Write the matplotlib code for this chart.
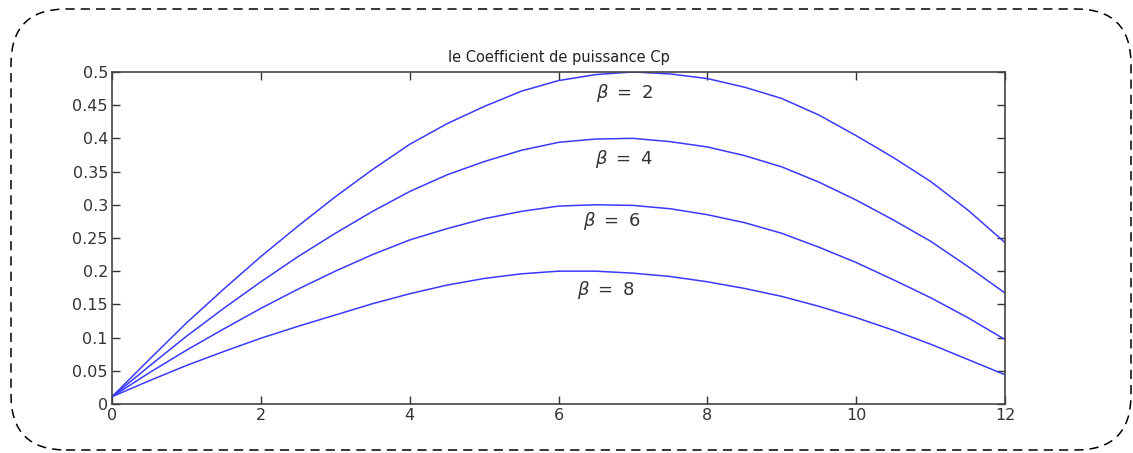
import numpy as np
import matplotlib.pyplot as plt
from matplotlib.patches import FancyBboxPatch

# vitesse specifique lambda
lam = [0, 0.5, 1, 1.5, 2, 2.5, 3, 3.5, 4, 4.5, 5, 5.5, 6,
       6.5, 7, 7.5, 8, 8.5, 9, 9.5, 10, 10.5, 11, 11.5, 12]

cp_b2 = [0.011, 0.067, 0.122, 0.173, 0.222, 0.268, 0.312, 0.353, 0.391, 0.422, 0.448, 0.471, 0.487,
         0.496, 0.500, 0.497, 0.490, 0.477, 0.460, 0.435, 0.404, 0.371, 0.335, 0.292, 0.243]
cp_b4 = [0.011, 0.057, 0.102, 0.144, 0.184, 0.222, 0.257, 0.290, 0.320, 0.345, 0.365, 0.382, 0.394,
         0.399, 0.400, 0.395, 0.387, 0.374, 0.357, 0.334, 0.307, 0.277, 0.245, 0.207, 0.167]
cp_b6 = [0.011, 0.047, 0.081, 0.113, 0.144, 0.173, 0.200, 0.225, 0.247, 0.264, 0.279, 0.290, 0.298,
         0.300, 0.299, 0.294, 0.285, 0.273, 0.257, 0.236, 0.213, 0.187, 0.160, 0.130, 0.097]
cp_b8 = [0.011, 0.035, 0.058, 0.079, 0.099, 0.117, 0.134, 0.151, 0.166, 0.179, 0.189, 0.196, 0.200,
         0.200, 0.197, 0.192, 0.184, 0.174, 0.162, 0.147, 0.130, 0.111, 0.090, 0.067, 0.044]

curves = [cp_b2, cp_b4, cp_b6, cp_b8]
labels = [r'$\beta\ =\ 2$', r'$\beta\ =\ 4$', r'$\beta\ =\ 6$', r'$\beta\ =\ 8$']
label_x = [6.88, 6.88, 6.72, 6.63]
label_y = [0.468, 0.369, 0.276, 0.172]

fig = plt.figure(figsize=(11.33, 4.53), dpi=100)
ax = fig.add_axes([0.0989, 0.1082, 0.7882, 0.733])

for cp in curves:
    ax.plot(lam, cp, color='#3a3aff', lw=1.1)

for txt, tx, ty in zip(labels, label_x, label_y):
    ax.text(tx, ty, txt, ha='center', va='center', fontsize=13, color='#333333')

ax.set_xlim(0, 12)
ax.set_ylim(0, 0.5)
ax.set_xticks(np.arange(0, 13, 2))
ax.set_yticks(np.arange(0, 0.501, 0.05))
ax.set_yticklabels(['0', '0.05', '0.1', '0.15', '0.2', '0.25', '0.3', '0.35', '0.4', '0.45', '0.5'])
ax.tick_params(direction='in', top=True, right=True, length=6, width=1,
               labelsize=11.5, colors='#333333', pad=3)
for s in ax.spines.values():
    s.set_color('#444444')
    s.set_linewidth(1.2)
ax.set_title('le Coefficient de puissance Cp', fontsize=10.5, color='#222222', pad=7)

# cadre pointille arrondi autour de la figure
cadre = FancyBboxPatch((0.11, 0.03), 11.2, 4.41,
                       boxstyle='round,pad=0,rounding_size=0.55',
                       transform=fig.dpi_scale_trans, fill=False,
                       edgecolor='black', lw=1.1, linestyle=(0, (6, 4)))
fig.patches.append(cadre)

fig.savefig('out.png', dpi=100)
